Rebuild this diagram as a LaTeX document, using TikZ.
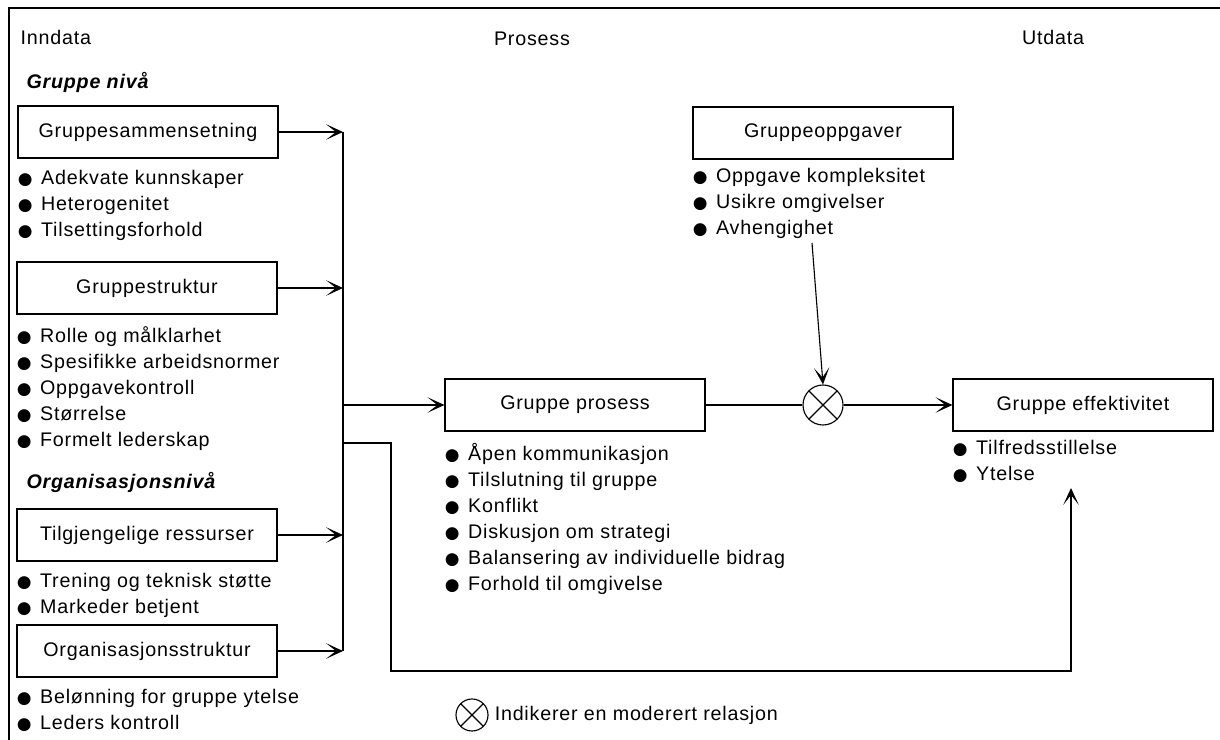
\documentclass[tikz,border=0pt]{standalone}
\usepackage{fontspec}
\setmainfont[LetterSpace=4]{Liberation Sans}
\newfontfamily\dotfont{DejaVu Sans}
\usetikzlibrary{arrows.meta,positioning,calc}
\newcommand{\bul}{{\dotfont\fontsize{12}{12}\selectfont ●}\hspace{6pt}}

\begin{document}
\begin{tikzpicture}[x=0.025cm,y=-0.025cm,line width=0.8pt,>={Stealth[length=12pt,width=11pt,inset=7pt]},font=\fontsize{14}{18.5}\selectfont]
	\tikzstyle{box} = [draw,rectangle,minimum width=6.5cm,minimum height=1.3cm,inner sep=0pt]
	\tikzstyle{list} = [align=left,anchor=north west,inner sep=0pt]
	\tikzstyle{level} = [anchor=west,inner sep=0pt,font=\fontsize{14}{18.5}\selectfont\bfseries\itshape]
	\tikzstyle{sign} = [draw,circle,inner sep=0pt,minimum size=1cm,path picture={
		\draw (path picture bounding box.north west) -- (path picture bounding box.south east)
		      (path picture bounding box.north east) -- (path picture bounding box.south west);}]

	\useasboundingbox (0,0) rectangle (1220,740);
	\draw[line width=2pt] (9,740) -- (9,8) -- (1220,8);

	% column titles
	\node[anchor=west,inner sep=0pt] (inn) at (20,37) {Inndata};
	\node (pros) at (532,39) {Prosess};
	\node (utd) at (1053,37) {Utdata};

	% inndata
	\node[level] (gniva) at (26,82) {Gruppe nivå};
	\node[box] (gsam) at (148,132) {Gruppesammensetning};
	\node[list] (gsamlist) at ([yshift=-8pt]gsam.south west) {\bul Adekvate kunnskaper\\ \bul Heterogenitet\\ \bul Tilsettingsforhold};
	\node[box] (gstr) at (147,288) {Gruppestruktur};
	\node[list] (gstrlist) at ([yshift=-8pt]gstr.south west) {\bul Rolle og målklarhet\\ \bul Spesifikke arbeidsnormer\\ \bul Oppgavekontroll\\ \bul Størrelse\\ \bul Formelt lederskap};
	\node[level] (oniva) at (26,482) {Organisasjonsnivå};
	\node[box] (tilg) at (147,535) {Tilgjengelige ressurser};
	\node[list] (tilglist) at ([yshift=-8pt]tilg.south west) {\bul Trening og teknisk støtte\\ \bul Markeder betjent};
	\node[box] (orgs) at (147,651) {Organisasjonsstruktur};
	\node[list] (orgslist) at ([yshift=-8pt]orgs.south west) {\bul Belønning for gruppe ytelse\\ \bul Leders kontroll};

	% prosess
	\node[box] (goppg) at (823,133) {Gruppeoppgaver};
	\node[list] (goppglist) at ([yshift=-6pt]goppg.south west) {\bul Oppgave kompleksitet\\ \bul Usikre omgivelser\\ \bul Avhengighet};
	\node[box] (gpros) at (575,405) {Gruppe prosess};
	\node[list] (gproslist) at ([yshift=-8pt]gpros.south west) {\bul Åpen kommunikasjon\\ \bul Tilslutning til gruppe\\ \bul Konflikt\\ \bul Diskusjon om strategi\\ \bul Balansering av individuelle bidrag\\ \bul Forhold til omgivelse};
	\node[sign] (mod) at (823,405) {};

	% utdata
	\node[box] (geff) at (1083,405) {Gruppe effektivitet};
	\node[list] (gefflist) at ([yshift=-6pt]geff.south west) {\bul Tilfredsstillelse\\ \bul Ytelse};

	% legend
	\node[sign,minimum size=0.8cm] (legsign) at (472,715) {};
	\node[right=4pt of legsign,inner sep=0pt] (legtext) {Indikerer en moderert relasjon};

	\coordinate (bus) at (343,405);
	\coordinate (byp) at (343,443);
	\coordinate (low) at (391,671);
	\coordinate (effin) at (1071,488);
	\coordinate (avh) at (812,243);

	\draw (gsam.east -| bus) -- (orgs.east -| bus);
	\foreach \b in {gsam,gstr,tilg,orgs}
		\draw[->] (\b.east) -- (\b.east -| bus);
	\draw[->] (bus) -- (gpros.west);
	\draw (gpros.east) -- (mod.west);
	\draw[->] (mod.east) -- (geff.west);
	\draw[->] (avh) -- (mod.north);
	\draw[->] (byp) -| (low) -| (effin);
\end{tikzpicture}
\end{document}
